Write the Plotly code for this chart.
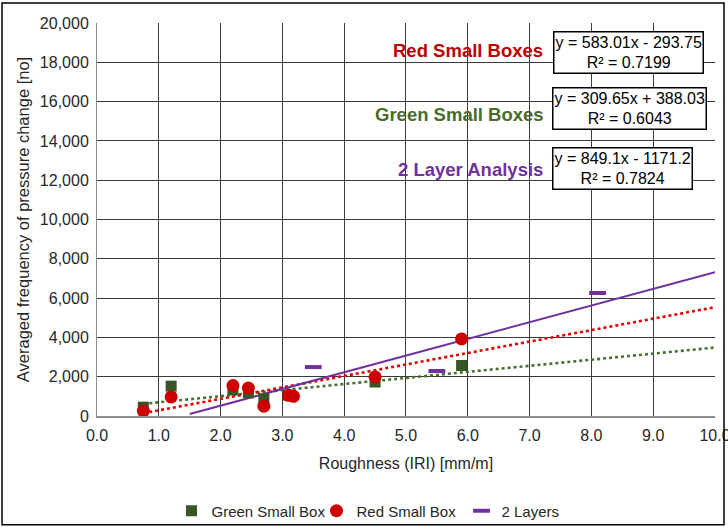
import numpy as np
import plotly.graph_objects as go

# Measured series
green_x = [0.75, 1.2, 2.2, 2.45, 2.7, 3.1, 4.5, 5.9]
green_y = [450, 1520, 1330, 1180, 880, 1060, 1730, 2570]

red_x = [0.75, 1.2, 2.2, 2.45, 2.7, 3.1, 3.18, 4.5, 5.9]
red_y = [250, 970, 1550, 1420, 500, 1050, 1000, 1990, 3920]

layer_x = [3.5, 5.5, 8.1]
layer_y = [2490, 2290, 6260]

# Linear trendlines: slope, intercept, start of fitted range, end of range
red_fit = [583.01, -293.75, 0.75, 10.0]
green_fit = [309.65, 388.03, 0.75, 10.0]
layer_fit = [849.1, -1171.2, 1.5, 10.0]

x_ticks = [0, 1, 2, 3, 4, 5, 6, 7, 8, 9, 10]
y_ticks = [0, 2000, 4000, 6000, 8000, 10000, 12000, 14000, 16000, 18000, 20000]

GREEN_MK = "#375623"
GREEN_LN = "#4a7030"
RED_MK = "#cc0000"
RED_LN = "#e60000"
PURPLE = "#7030a0"
FONT = "Liberation Sans, Arial, sans-serif"


def fit_line(coef):
    m, b, x0, x1 = coef
    xs = np.linspace(x0, x1, 50)
    return xs, m * xs + b


fig = go.Figure()

for coef, color, dash, width in [
    (green_fit, GREEN_LN, "dot", 2.6),
    (red_fit, RED_LN, "dot", 2.6),
    (layer_fit, PURPLE, "solid", 2),
]:
    xs, ys = fit_line(coef)
    fig.add_trace(go.Scatter(x=xs, y=ys, mode="lines", showlegend=False,
                             hoverinfo="skip", cliponaxis=False,
                             line=dict(color=color, dash=dash, width=width)))

fig.add_trace(go.Scatter(x=green_x, y=green_y, mode="markers", name="Green Small Box",
                         marker=dict(symbol="square", size=11, color=GREEN_MK)))
fig.add_trace(go.Scatter(x=red_x, y=red_y, mode="markers", name="Red Small Box",
                         marker=dict(symbol="circle", size=13, color=RED_MK)))
fig.add_trace(go.Scatter(x=layer_x, y=layer_y, mode="markers", name="2 Layers",
                         marker=dict(symbol="line-ew", size=12, color=PURPLE,
                                     line=dict(color=PURPLE, width=4))))


def eq_box(text, x, y):
    return dict(text=text, x=x, y=y, xanchor="center",
                font=dict(color="#000000", size=16), bgcolor="white",
                bordercolor="#000000", borderwidth=1.5, borderpad=1)


annotations = [
    dict(text="<b>Red Small Boxes</b>", x=0.725, y=0.931,
         font=dict(color="#c00000", size=18.5), xanchor="right"),
    dict(text="<b>Green Small Boxes</b>", x=0.7265, y=0.768,
         font=dict(color="#4a6b2c", size=18.5), xanchor="right"),
    dict(text="<b>2 Layer Analysis</b>", x=0.725, y=0.626,
         font=dict(color=PURPLE, size=18.5), xanchor="right"),
    eq_box("y = 583.01x - 293.75<br>R² = 0.7199", 0.860, 0.9237),
    eq_box("y = 309.65x + 388.03<br>R² = 0.6043", 0.861, 0.7837),
    eq_box("y = 849.1x - 1171.2<br>R² = 0.7824", 0.851, 0.6298),
]
for a in annotations:
    a.update(xref="paper", yref="paper", showarrow=False, yanchor="middle")
    a["font"]["family"] = FONT

fig.update_layout(
    width=728, height=527,
    margin=dict(l=97, r=13, t=23, b=111, autoexpand=False),
    paper_bgcolor="white", plot_bgcolor="white",
    font=dict(family=FONT, color="#262626"),
    annotations=annotations,
    showlegend=True,
    legend=dict(orientation="h", x=0.4725, y=-0.2417, xanchor="center", yanchor="middle",
                font=dict(size=15, color="#262626"), itemwidth=30,
                entrywidth=100, entrywidthmode="pixels",
                bgcolor="rgba(0,0,0,0)"),
    shapes=[dict(type="rect", xref="paper", yref="paper",
                 x0=-0.1537, x1=1.0146, y0=-0.277, y1=1.0509,
                 line=dict(color="#000000", width=1.5))],
)

fig.update_xaxes(range=[0, 10.0005], tickvals=x_ticks, tickformat=".1f",
                 showgrid=True, gridcolor="#3a3a3a", gridwidth=1, zeroline=False,
                 showline=True, linecolor="#8c8c8c", linewidth=1.5,
                 ticklabeloverflow="allow", ticklabelstandoff=4,
                 tickfont=dict(size=16, color="#262626"),
                 title=dict(text="Roughness (IRI) [mm/m]", font=dict(size=16, color="#262626"),
                            standoff=15))
fig.update_yaxes(range=[0, 20000], tickvals=y_ticks, tickformat=",d",
                 showgrid=True, gridcolor="#3a3a3a", gridwidth=1, zeroline=False,
                 showline=True, linecolor="#8c8c8c", linewidth=1,
                 tickfont=dict(size=16, color="#262626"), ticklabelstandoff=4,
                 title=dict(text="Averaged frequency of pressure change [no]",
                            font=dict(size=16.5, color="#262626"), standoff=6))

fig.write_html("out.html")
